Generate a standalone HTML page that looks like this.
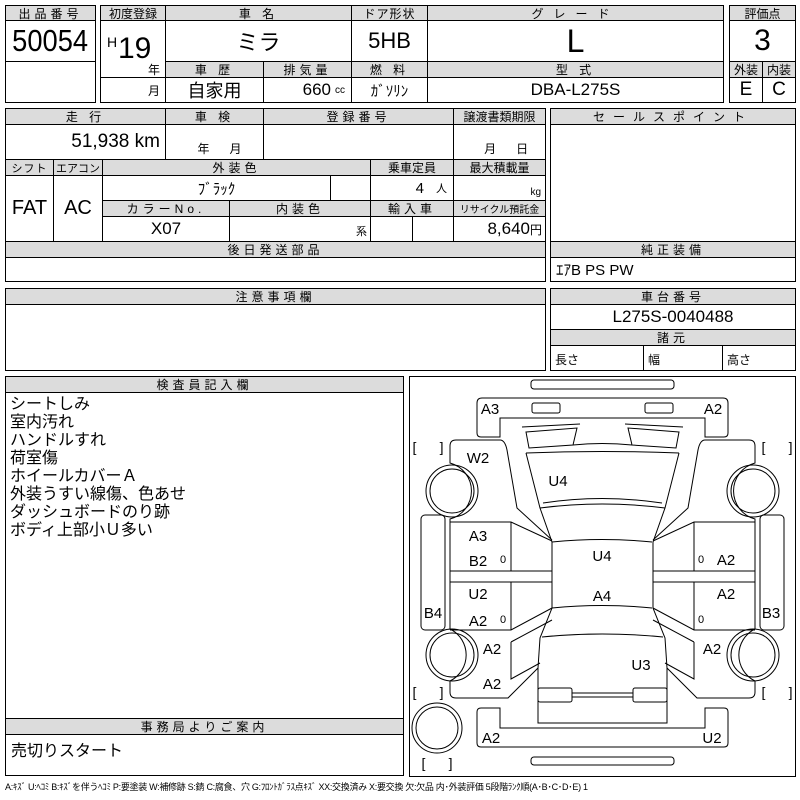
<!DOCTYPE html>
<html><head><meta charset="utf-8"><style>
*{margin:0;padding:0;box-sizing:border-box}
body{width:800px;height:800px;background:#fff;position:relative;overflow:hidden;font-family:"Liberation Sans","Noto Sans CJK JP",sans-serif;color:#000}
.c{position:absolute;border:1px solid #000;display:flex;align-items:center;justify-content:center;white-space:nowrap;overflow:hidden}
.h{background:#dcdcdc;font-size:12px;letter-spacing:4px}
.t{position:absolute;white-space:nowrap}
svg text{font-family:"Liberation Sans","Noto Sans CJK JP",sans-serif}
</style></head><body>

<!-- block 1 -->
<div class="c h" style="left:5px;top:5px;width:91px;height:16px">出品番号</div>
<div class="c" style="left:5px;top:20px;width:91px;height:42px;font-size:31px"><span style="display:inline-block;transform:scaleX(0.88)">50054</span></div>
<div class="c" style="left:5px;top:61px;width:91px;height:42px"></div>

<!-- block 2 -->
<div class="c h" style="left:100px;top:5px;width:66px;height:16px;letter-spacing:0">初度登録</div>
<div class="c h" style="left:165px;top:5px;width:187px;height:16px">車 名</div>
<div class="c h" style="left:351px;top:5px;width:77px;height:16px;letter-spacing:1px">ドア形状</div>
<div class="c h" style="left:427px;top:5px;width:297px;height:16px;letter-spacing:10px">グレード</div>
<div class="c" style="left:100px;top:20px;width:66px;height:58px"></div>
<div class="t" style="left:107px;top:34px;font-size:14px">H</div>
<div class="t" style="left:118px;top:34px;font-size:30px;line-height:30px">19</div>
<div class="t" style="left:148px;top:61px;font-size:12px">年</div>
<div class="c" style="left:100px;top:77px;width:66px;height:26px;justify-content:flex-end;padding-right:5px;font-size:12px">月</div>
<div class="c" style="left:165px;top:20px;width:187px;height:42px;font-size:22px">ミラ</div>
<div class="c" style="left:351px;top:20px;width:77px;height:42px;font-size:22px">5HB</div>
<div class="c" style="left:427px;top:20px;width:297px;height:42px;font-size:32px">L</div>
<div class="c h" style="left:165px;top:61px;width:99px;height:17px">車 歴</div>
<div class="c h" style="left:263px;top:61px;width:89px;height:17px">排気量</div>
<div class="c h" style="left:351px;top:61px;width:77px;height:17px">燃 料</div>
<div class="c h" style="left:427px;top:61px;width:297px;height:17px">型 式</div>
<div class="c" style="left:165px;top:77px;width:99px;height:26px;font-size:18px">自家用</div>
<div class="c" style="left:263px;top:77px;width:89px;height:26px;font-size:17px;justify-content:flex-end;padding-right:6px">660 <span style="font-size:10px;margin-left:4px">cc</span></div>
<div class="c" style="left:351px;top:77px;width:77px;height:26px;font-size:15px">ｶﾞｿﾘﾝ</div>
<div class="c" style="left:427px;top:77px;width:297px;height:26px;font-size:17px">DBA-L275S</div>

<!-- block 3 -->
<div class="c h" style="left:729px;top:5px;width:67px;height:16px;letter-spacing:0">評価点</div>
<div class="c" style="left:729px;top:20px;width:67px;height:42px;font-size:30px">3</div>
<div class="c h" style="left:729px;top:61px;width:34px;height:17px;letter-spacing:0">外装</div>
<div class="c h" style="left:762px;top:61px;width:34px;height:17px;letter-spacing:0">内装</div>
<div class="c" style="left:729px;top:77px;width:34px;height:26px;font-size:19px">E</div>
<div class="c" style="left:762px;top:77px;width:34px;height:26px;font-size:19px">C</div>

<!-- second block -->
<div class="c h" style="left:5px;top:108px;width:161px;height:17px">走 行</div>
<div class="c h" style="left:165px;top:108px;width:99px;height:17px">車 検</div>
<div class="c h" style="left:263px;top:108px;width:191px;height:17px">登録番号</div>
<div class="c h" style="left:453px;top:108px;width:93px;height:17px;letter-spacing:0">譲渡書類期限</div>
<div class="c" style="left:5px;top:124px;width:161px;height:36px;font-size:19px;justify-content:flex-end;padding-right:5px">51,938 km</div>
<div class="c" style="left:165px;top:124px;width:99px;height:36px;font-size:12px;align-items:flex-end;padding-bottom:2px">&nbsp;&nbsp;&nbsp;年&nbsp;&nbsp;&nbsp;&nbsp;&nbsp;&nbsp;月</div>
<div class="c" style="left:263px;top:124px;width:191px;height:36px"></div>
<div class="c" style="left:453px;top:124px;width:93px;height:36px;font-size:12px;align-items:flex-end;padding-bottom:2px">&nbsp;&nbsp;&nbsp;&nbsp;月&nbsp;&nbsp;&nbsp;&nbsp;&nbsp;&nbsp;日</div>
<div class="c h" style="left:5px;top:159px;width:49px;height:17px;font-size:11px;letter-spacing:1px">シフト</div>
<div class="c h" style="left:53px;top:159px;width:50px;height:17px;font-size:11px;letter-spacing:0">エアコン</div>
<div class="c h" style="left:102px;top:159px;width:269px;height:17px">外装色</div>
<div class="c h" style="left:370px;top:159px;width:84px;height:17px;letter-spacing:0">乗車定員</div>
<div class="c h" style="left:453px;top:159px;width:93px;height:17px;letter-spacing:0">最大積載量</div>
<div class="c" style="left:5px;top:175px;width:49px;height:67px;font-size:20px">FAT</div>
<div class="c" style="left:53px;top:175px;width:50px;height:67px;font-size:20px">AC</div>
<div class="c" style="left:102px;top:175px;width:229px;height:26px;font-size:15px">ﾌﾞﾗｯｸ</div>
<div class="c" style="left:330px;top:175px;width:41px;height:26px"></div>
<div class="c" style="left:370px;top:175px;width:84px;height:26px;font-size:15px;justify-content:flex-end;padding-right:6px">4 <span style="font-size:11px;margin-left:12px">人</span></div>
<div class="c" style="left:453px;top:175px;width:93px;height:26px;font-size:10px;justify-content:flex-end;align-items:flex-end;padding:0 4px 2px 0">kg</div>
<div class="c h" style="left:102px;top:200px;width:128px;height:17px">カラーNo.</div>
<div class="c h" style="left:229px;top:200px;width:142px;height:17px">内装色</div>
<div class="c h" style="left:370px;top:200px;width:84px;height:17px">輸入車</div>
<div class="c h" style="left:453px;top:200px;width:93px;height:17px;font-size:10px;letter-spacing:0">リサイクル預託金</div>
<div class="c" style="left:102px;top:216px;width:128px;height:26px;font-size:17px">X07</div>
<div class="c" style="left:229px;top:216px;width:142px;height:26px;font-size:11px;justify-content:flex-end;align-items:flex-end;padding:0 3px 2px 0">系</div>
<div class="c" style="left:370px;top:216px;width:43px;height:26px"></div>
<div class="c" style="left:412px;top:216px;width:42px;height:26px"></div>
<div class="c" style="left:453px;top:216px;width:93px;height:26px;font-size:17px;justify-content:flex-end;padding-right:3px">8,640<span style="font-size:12px">円</span></div>
<div class="c h" style="left:5px;top:241px;width:541px;height:17px">後日発送部品</div>
<div class="c" style="left:5px;top:257px;width:541px;height:25px"></div>

<div class="c h" style="left:550px;top:108px;width:246px;height:17px;letter-spacing:8px">セールスポイント</div>
<div class="c" style="left:550px;top:124px;width:246px;height:118px"></div>
<div class="c h" style="left:550px;top:241px;width:246px;height:17px">純正装備</div>
<div class="c" style="left:550px;top:257px;width:246px;height:25px;font-size:15px;justify-content:flex-start;padding-left:5px">ｴｱB PS PW</div>

<div class="c h" style="left:5px;top:288px;width:541px;height:17px">注意事項欄</div>
<div class="c" style="left:5px;top:304px;width:541px;height:67px"></div>
<div class="c h" style="left:550px;top:288px;width:246px;height:17px">車台番号</div>
<div class="c" style="left:550px;top:304px;width:246px;height:26px;font-size:17px">L275S-0040488</div>
<div class="c h" style="left:550px;top:329px;width:246px;height:17px">諸元</div>
<div class="c" style="left:550px;top:345px;width:94px;height:26px;font-size:12px;justify-content:flex-start;padding-left:4px;align-items:flex-end;padding-bottom:2px">長さ</div>
<div class="c" style="left:643px;top:345px;width:80px;height:26px;font-size:12px;justify-content:flex-start;padding-left:4px;align-items:flex-end;padding-bottom:2px">幅</div>
<div class="c" style="left:722px;top:345px;width:74px;height:26px;font-size:12px;justify-content:flex-start;padding-left:4px;align-items:flex-end;padding-bottom:2px">高さ</div>

<div class="c h" style="left:5px;top:376px;width:399px;height:17px">検査員記入欄</div>
<div class="c" style="left:5px;top:392px;width:399px;height:327px"></div>
<div class="t" style="left:10px;top:396px;font-size:16px;line-height:18px">シートしみ<br>室内汚れ<br>ハンドルすれ<br>荷室傷<br>ホイールカバーＡ<br>外装うすい線傷、色あせ<br>ダッシュボードのり跡<br>ボディ上部小Ｕ多い</div>
<div class="c h" style="left:5px;top:718px;width:399px;height:17px">事務局よりご案内</div>
<div class="c" style="left:5px;top:734px;width:399px;height:42px;font-size:16px;justify-content:flex-start;align-items:flex-start;padding:2px 0 0 5px">売切りスタート</div>

<div class="c" style="left:409px;top:376px;width:387px;height:401px"></div>

<svg width="800" height="800" style="position:absolute;left:0;top:0" fill="none" stroke="#000" stroke-width="1">
<defs><g id="hf">
<path d="M602.5,398 H482 Q477,398 477,403 V433 Q477,437 481,437 H500 V418 H602.5"/>
<rect x="532" y="403" width="28" height="10" rx="2"/>
<path d="M526,432 L577,428 L573,445 L529,448 Z"/>
<path d="M522,427 L580,424"/>
<path d="M526,453 L540,508 L552,542 V608 L540,638 L538,668 V723"/>
<path d="M456,440 H500 Q505,440 507,450 L517,508 L552,540"/>
<path d="M450,446 Q450,440 456,440 M450,446 V463 A29,29 0 0 1 450,519 V629 A29,29 0 0 1 450,681 V692 Q450,698 456,698 H508 L538,668"/>
<path d="M450,522 H511 L552,541 M511,522 V571 M450,571 H552 M450,582 H552 M511,582 V630 M450,630 H511 L552,608"/>
<path d="M511,642 L552,620 M511,642 V679 L540,663"/>
<rect x="421" y="515" width="24" height="115" rx="4"/>
<circle cx="452" cy="491" r="26"/><circle cx="452" cy="491" r="22"/>
<circle cx="452" cy="655" r="26"/><circle cx="452" cy="655" r="22"/>
<rect x="538" y="688" width="34" height="14" rx="2"/>
<path d="M572,693 H602.5 M572,697 H602.5 M538,703 V723 H602.5"/>
<path d="M602.5,728 H500 V708 H481 Q477,708 477,712 V743 Q477,747 481,747 H602.5"/>
</g></defs>
<use href="#hf"/>
<use href="#hf" transform="translate(1205,0) scale(-1,1)"/>
<rect x="531" y="380" width="143" height="9" rx="3"/>
<rect x="531" y="757" width="143" height="8" rx="3"/>
<path d="M526,453 Q602,450 679,453 M540,508 Q602,500 665,508 M543,503 Q602,494 662,503 M552,542 Q602,537 652,542 M552,608 Q602,603 652,608 M542,637 Q602,631 663,637 M573,445 Q602,442 632,445"/>
<circle cx="437" cy="728" r="25"/><circle cx="437" cy="728" r="21"/>
<g fill="#000" stroke="none" font-size="15" text-anchor="middle">
<text x="490" y="414">A3</text><text x="713" y="414">A2</text>
<text x="478" y="463">W2</text><text x="558" y="486">U4</text>
<text x="478" y="541">A3</text><text x="478" y="566">B2</text>
<text x="602" y="561">U4</text><text x="726" y="565">A2</text>
<text x="478" y="599">U2</text><text x="602" y="601">A4</text>
<text x="726" y="599">A2</text><text x="433" y="618">B4</text>
<text x="478" y="626">A2</text><text x="771" y="618">B3</text>
<text x="492" y="654">A2</text><text x="712" y="654">A2</text>
<text x="641" y="670">U3</text><text x="492" y="689">A2</text>
<text x="491" y="743">A2</text><text x="712" y="743">U2</text>
<g font-size="11"><text x="503" y="563">0</text><text x="503" y="623">0</text><text x="701" y="563">0</text><text x="701" y="623">0</text></g>
<g font-size="14"><text x="428" y="452">[&#160;&#160;&#160;&#160;&#160;&#160;]</text><text x="777" y="452">[&#160;&#160;&#160;&#160;&#160;&#160;]</text>
<text x="428" y="697">[&#160;&#160;&#160;&#160;&#160;&#160;]</text><text x="777" y="697">[&#160;&#160;&#160;&#160;&#160;&#160;]</text>
<text x="437" y="768">[&#160;&#160;&#160;&#160;&#160;&#160;]</text></g>
</g>
</svg>

<div class="t" style="left:5px;top:780px;font-size:9px;letter-spacing:-0.3px">A:ｷｽﾞ U:ﾍｺﾐ B:ｷｽﾞを伴うﾍｺﾐ P:要塗装 W:補修跡 S:錆 C:腐食、穴 G:ﾌﾛﾝﾄｶﾞﾗｽ点ｷｽﾞ XX:交換済み X:要交換 欠:欠品 内･外装評価 5段階ﾗﾝｸ順(A･B･C･D･E) 1</div>
</body></html>
